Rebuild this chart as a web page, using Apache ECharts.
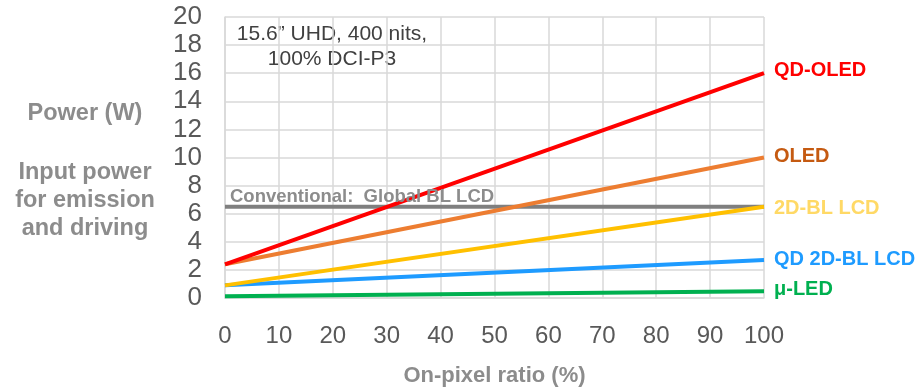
<!DOCTYPE html>
<html lang="en">
<head>
    <meta charset="UTF-8">
    <title>Power vs on-pixel ratio</title>
    <script src="https://cdn.jsdelivr.net/npm/echarts@6/dist/echarts.min.js"></script>
    <style>
        html, body { margin: 0; padding: 0; background: #fff; }
        #main { width: 923px; height: 389px; }
    </style>
</head>
<body>
<div id="main"></div>
<script>
    // on-pixel ratio (%)
    var ratio = [0, 100];
    var xTicks = [0, 10, 20, 30, 40, 50, 60, 70, 80, 90, 100];
    // power (W) at 0% and 100% on-pixel ratio
    var qdOled = [2.4, 16];
    var oled = [2.4, 10];
    var globalBl = [6.5, 6.5];
    var bl2d = [0.9, 6.5];
    var qdBl2d = [0.9, 2.7];
    var microLed = [0.12, 0.48];

    var font = '"Liberation Sans", Arial, sans-serif';

    function pts(vals) {
        return ratio.map(function (x, i) { return [x, vals[i]]; });
    }

    function line(name, vals, color, labelColor, dy) {
        return {
            name: name,
            type: 'line',
            data: pts(vals),
            symbol: 'none',
            lineStyle: { color: color, width: 4 },
            endLabel: labelColor ? {
                show: true,
                formatter: name,
                color: labelColor,
                fontFamily: font,
                fontWeight: 'bold',
                fontSize: 20,
                distance: 10,
                offset: [0, dy]
            } : { show: false },
            z: 3
        };
    }

    var myChart = echarts.init(document.getElementById('main'));

    var option = {
        animation: false,
        grid: { left: 225, right: 159, top: 17, bottom: 91, containLabel: false, outerBoundsMode: 'none' },
        xAxis: {
            type: 'value',
            min: 0,
            max: 100,
            interval: 10,
            axisLine: { show: true, lineStyle: { color: '#d9d9d9', width: 1.5 } },
            axisTick: { show: false },
            splitLine: { show: true, lineStyle: { color: '#d9d9d9', width: 1.5 } },
            axisLabel: {
                margin: 26,
                color: '#595959',
                fontFamily: font,
                fontSize: 24,
                customValues: xTicks
            },
            name: 'On-pixel ratio (%)',
            nameLocation: 'middle',
            nameGap: 67,
            nameTextStyle: { color: '#8c8c8c', fontFamily: font, fontWeight: 'bold', fontSize: 22 }
        },
        yAxis: {
            type: 'value',
            min: 0,
            max: 20,
            interval: 2,
            axisLine: { show: true, lineStyle: { color: '#d9d9d9', width: 1.5 } },
            axisTick: { show: false },
            splitLine: { show: true, lineStyle: { color: '#d9d9d9', width: 1.5 } },
            axisLabel: { margin: 23, color: '#595959', fontFamily: font, fontSize: 26 }
        },
        graphic: [
            {
                type: 'text',
                style: { text: 'Power (W)', x: 85, y: 114, align: 'center', verticalAlign: 'middle',
                    fill: '#8c8c8c', font: 'bold 23.5px ' + font }
            },
            {
                type: 'text',
                style: { text: 'Input power\nfor emission\nand driving', x: 85, y: 201, align: 'center',
                    verticalAlign: 'middle', lineHeight: 28, fill: '#8c8c8c', font: 'bold 23.5px ' + font }
            },
            {
                type: 'text',
                style: { text: '15.6\u201d UHD, 400 nits,\n100% DCI-P3', x: 332, y: 47, align: 'center',
                    verticalAlign: 'middle', lineHeight: 25, fill: '#404040', font: '21px ' + font }
            },
            {
                type: 'text', z: 10,
                style: { text: 'Conventional:  Global BL LCD', x: 230, y: 197, verticalAlign: 'middle',
                    fill: '#8c8c8c', font: 'bold 18.5px ' + font }
            }
        ],
        series: [
            line('Conventional:  Global BL LCD', globalBl, '#7f7f7f', null, 0),
            line('\u03bc-LED', microLed, '#00b050', '#00b050', -1.5),
            line('QD 2D-BL LCD', qdBl2d, '#1e9bff', '#1e9bff', -1),
            line('2D-BL LCD', bl2d, '#ffc000', '#ffd966', 2),
            line('OLED', oled, '#ed7d31', '#c55a11', -1),
            line('QD-OLED', qdOled, '#ff0000', '#ff0000', -2.5)
        ]
    };

    myChart.setOption(option);
</script>
</body>
</html>
